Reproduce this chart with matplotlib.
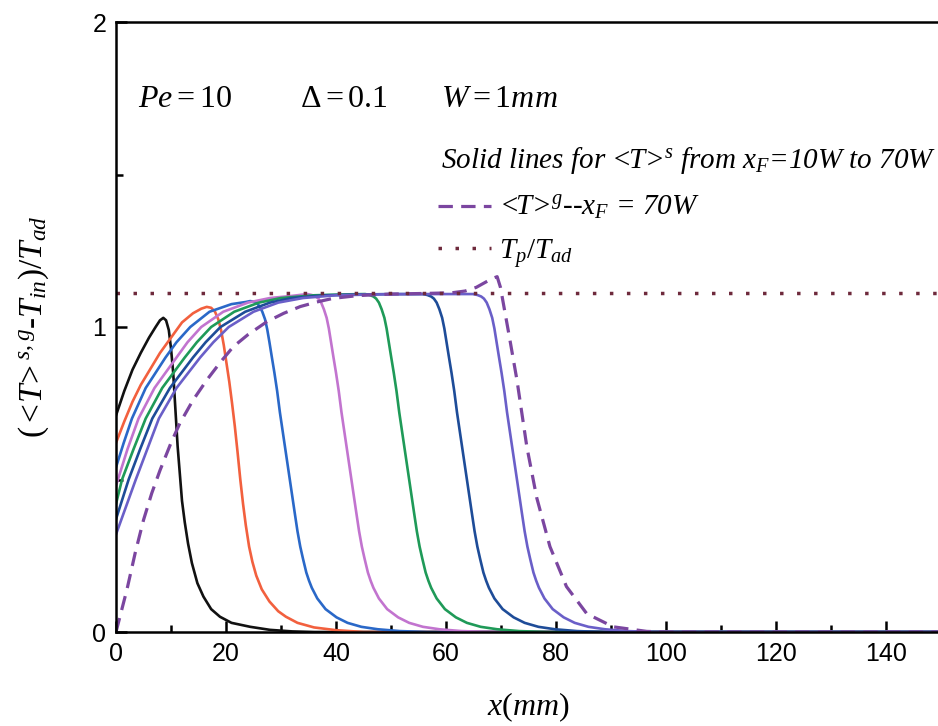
import matplotlib
matplotlib.use("Agg")
import matplotlib.pyplot as plt
from matplotlib.lines import Line2D
from matplotlib.ticker import MultipleLocator

plt.rcParams["font.family"] = ["Liberation Serif", "DejaVu Serif"]
plt.rcParams["mathtext.fontset"] = "custom"
plt.rcParams["mathtext.rm"] = "Liberation Serif"
plt.rcParams["mathtext.it"] = "Liberation Serif:italic"
plt.rcParams["mathtext.bf"] = "Liberation Serif:bold"

# --------------------------------------------------
# Data
# --------------------------------------------------
x_10 = [0, 1.5, 3, 4.5, 6, 7.2, 8.0, 8.6, 9.1, 9.6, 10.0, 10.4, 10.8, 11.2, 11.6,
        12.0, 12.5, 13.1, 13.8, 14.8, 15.9, 17.3, 18.9, 21, 24.4, 28, 32, 36, 150]
y_10 = [0.71, 0.79, 0.86, 0.915, 0.965, 1.0, 1.022, 1.03, 1.022, 0.99, 0.93, 0.85,
        0.73, 0.61, 0.52, 0.43, 0.36, 0.29, 0.226, 0.16, 0.116, 0.075, 0.05, 0.03,
        0.017, 0.007, 0.002, 0, 0]

x_20 = [0, 1.5, 3, 4.5, 6, 8, 10, 12, 14, 15.5, 16.5, 17.3, 18.0, 18.6, 19.1, 19.6,
        20.1, 20.6, 21.1, 21.6, 22.1, 22.6, 23.1, 23.6, 24.2, 24.8, 25.5, 26.5, 27.9,
        29.5, 30.9, 33, 36, 40, 45, 150]
y_20 = [0.62, 0.69, 0.755, 0.81, 0.855, 0.915, 0.965, 1.015, 1.045, 1.06, 1.066,
        1.063, 1.05, 1.025, 0.99, 0.94, 0.88, 0.82, 0.75, 0.675, 0.59, 0.5, 0.42,
        0.35, 0.28, 0.23, 0.185, 0.14, 0.1, 0.068, 0.05, 0.03, 0.015, 0.006, 0, 0]

x_30 = [0, 1.4, 2.9, 5.4, 9, 11, 13.5, 17, 21, 23.6, 24.4, 25.1, 25.6, 26.1,
        26.6, 27.1, 27.5, 27.9, 28.3, 28.8, 29.3, 29.8, 30.25, 30.7, 31.15, 31.6,
        32.05, 32.5, 33.0, 33.5, 34.0, 34.6, 35.1, 35.6, 36.6, 38.1, 40.1, 42.1,
        44.6, 47.6, 51.6, 56.6, 150]
y_30 = [0.54, 0.62, 0.70, 0.80, 0.90, 0.95, 1.0, 1.05, 1.075, 1.082, 1.085, 1.083,
        1.078, 1.068, 1.05, 1.025, 0.992, 0.95, 0.905, 0.85, 0.79, 0.72, 0.665,
        0.61, 0.555, 0.5, 0.445, 0.39, 0.33, 0.28, 0.24, 0.195, 0.168, 0.145, 0.11,
        0.075, 0.048, 0.03, 0.017, 0.009, 0.003, 0, 0]

x_40 = [0, 2.1, 4.1, 7.0, 11, 13, 15.5, 19.5, 24, 28, 32, 34.8, 35.6, 36.3, 36.8,
        37.3, 37.8, 38.3, 38.7, 39.1, 39.5, 40.0, 40.5, 41.0, 41.45, 41.9, 42.35,
        42.8, 43.25, 43.7, 44.2, 44.7, 45.2, 45.8, 46.3, 46.8, 47.8, 49.3, 51.3,
        53.3, 55.8, 58.8, 62.8, 67.8, 150]
y_40 = [0.48, 0.60, 0.70, 0.80, 0.90, 0.95, 1.0, 1.05, 1.08, 1.095, 1.102, 1.108,
        1.105, 1.10, 1.093, 1.08, 1.058, 1.03, 0.995, 0.95, 0.905, 0.85, 0.79, 0.72,
        0.665, 0.61, 0.555, 0.5, 0.445, 0.39, 0.33, 0.28, 0.24, 0.195, 0.168, 0.145,
        0.11, 0.075, 0.048, 0.03, 0.017, 0.009, 0.003, 0, 0]

x_50 = [0, 1.1, 3.2, 5.4, 8.4, 12.5, 14.7, 17.3, 21.5, 26, 30, 36, 42, 45.3, 46.1,
        46.8, 47.3, 47.8, 48.3, 48.8, 49.2, 49.6, 50.0, 50.5, 51.0, 51.5, 51.95,
        52.4, 52.85, 53.3, 53.75, 54.2, 54.7, 55.2, 55.7, 56.3, 56.8, 57.3, 58.3,
        59.8, 61.8, 63.8, 66.3, 69.3, 73.3, 78.3, 150]
y_50 = [0.42, 0.50, 0.60, 0.70, 0.80, 0.90, 0.95, 1.0, 1.05, 1.08, 1.095, 1.104,
        1.107, 1.108, 1.105, 1.10, 1.093, 1.08, 1.058, 1.03, 0.995, 0.95, 0.905,
        0.85, 0.79, 0.72, 0.665, 0.61, 0.555, 0.5, 0.445, 0.39, 0.33, 0.28, 0.24,
        0.195, 0.168, 0.145, 0.11, 0.075, 0.048, 0.03, 0.017, 0.009, 0.003, 0, 0]

x_60 = [0, 2.3, 4.4, 6.6, 9.8, 14, 16.3, 19, 23.5, 28, 32, 38, 46, 50, 55.8,
        56.6, 57.3, 57.8, 58.3, 58.8, 59.3, 59.7, 60.1, 60.5, 61.0, 61.5, 62.0,
        62.45, 62.9, 63.35, 63.8, 64.25, 64.7, 65.2, 65.7, 66.2, 66.8, 67.3, 67.8,
        68.8, 70.3, 72.3, 74.3, 76.8, 79.8, 83.8, 88.8, 150]
y_60 = [0.37, 0.50, 0.60, 0.70, 0.80, 0.90, 0.95, 1.0, 1.05, 1.08, 1.095, 1.104,
        1.107, 1.108, 1.108, 1.105, 1.10, 1.093, 1.08, 1.058, 1.03, 0.995, 0.95,
        0.905, 0.85, 0.79, 0.72, 0.665, 0.61, 0.555, 0.5, 0.445, 0.39, 0.33, 0.28,
        0.24, 0.195, 0.168, 0.145, 0.11, 0.075, 0.048, 0.03, 0.017, 0.009, 0.003,
        0, 0]

x_70 = [0, 3.6, 5.7, 7.8, 11, 15.3, 17.7, 20.5, 25, 29.5, 34, 40, 48, 55, 64.9,
        65.7, 66.4, 66.9, 67.4, 67.9, 68.4, 68.8, 69.2, 69.6, 70.1, 70.6, 71.1,
        71.55, 72.0, 72.45, 72.9, 73.35, 73.8, 74.3, 74.8, 75.3, 75.9, 76.4, 76.9,
        77.9, 79.4, 81.4, 83.4, 85.9, 88.9, 92.9, 97.9, 150]
y_70 = [0.32, 0.50, 0.60, 0.70, 0.80, 0.90, 0.95, 1.0, 1.05, 1.08, 1.095, 1.104,
        1.107, 1.108, 1.108, 1.105, 1.10, 1.093, 1.08, 1.058, 1.03, 0.995, 0.95,
        0.905, 0.85, 0.79, 0.72, 0.665, 0.61, 0.555, 0.5, 0.445, 0.39, 0.33, 0.28,
        0.24, 0.195, 0.168, 0.145, 0.11, 0.075, 0.048, 0.03, 0.017, 0.009, 0.003,
        0, 0]

# gas temperature for x_F = 70W (dashed)
x_gas = [0, 1, 2, 3.5, 5, 6.5, 8, 10, 11.6, 14, 16.5, 19, 21.3, 24, 27.4, 30.5,
         33.5, 36.5, 39.5, 44, 50, 56, 61, 63.5, 65.5, 67, 68.3, 69.3, 69.9, 70.6,
         71.5, 72.9, 74.7, 76.5, 78.9, 81.9, 85.6, 90.4, 96.5, 100, 150]
y_gas = [0, 0.07, 0.14, 0.26, 0.367, 0.455, 0.53, 0.62, 0.684, 0.76, 0.826, 0.885,
         0.935, 0.975, 1.017, 1.045, 1.067, 1.082, 1.094, 1.103, 1.108, 1.11, 1.112,
         1.118, 1.13, 1.145, 1.158, 1.165, 1.13, 1.06, 0.97, 0.826, 0.607, 0.44,
         0.28, 0.149, 0.06, 0.017, 0.002, 0, 0]

tp_ratio = 1.11

solid_x = [x_10, x_20, x_30, x_40, x_50, x_60, x_70]
solid_y = [y_10, y_20, y_30, y_40, y_50, y_60, y_70]
solid_colors = ["#111111", "#f2603e", "#2a68c8", "#c274cf", "#1f9a58", "#1e4c98", "#6a5fc8"]

# --------------------------------------------------
# Plot
# --------------------------------------------------
fig = plt.figure(figsize=(9.38, 7.26), dpi=100)
ax = fig.add_axes([116 / 938, 94 / 726, 825 / 938, 610 / 726])

for xs, ys, c in zip(solid_x, solid_y, solid_colors):
    ax.plot(xs, ys, color=c, lw=1.9, solid_joinstyle="round")

ax.plot(x_gas, y_gas, color="#7b46a0", lw=2.3, linestyle=(0, (4.5, 2.6)))
ax.plot([0, 150], [tp_ratio, tp_ratio], color="#6e2a3c", lw=2.5,
        linestyle=(0, (1, 3.9)))

ax.set_xlim(0, 150)
ax.set_ylim(0, 2)
ax.xaxis.set_major_locator(MultipleLocator(20))
ax.xaxis.set_minor_locator(MultipleLocator(10))
ax.yaxis.set_major_locator(MultipleLocator(1))
ax.yaxis.set_minor_locator(MultipleLocator(0.5))
ax.tick_params(which="both", direction="in", width=1.8, colors="black")
ax.tick_params(which="major", length=8, labelsize=18, pad=7)
ax.tick_params(which="minor", length=5)
for lab in ax.get_xticklabels() + ax.get_yticklabels():
    lab.set_family(["Liberation Sans", "DejaVu Sans"])
for s in ax.spines.values():
    s.set_linewidth(1.8)

ax.set_xlabel(r"$x(mm)$", fontsize=23, labelpad=18)
ax.set_ylabel(r"$(<\!T\!>^{s,g}$-$T_{in})/T_{ad}$", fontsize=24, labelpad=30)

# annotations
ax.text(4, 1.72, r"$Pe=10$", fontsize=23)
ax.text(33.5, 1.72, r"$\Delta=0.1$", fontsize=23)
ax.text(59, 1.72, r"$W=1mm$", fontsize=23)
ax.text(59, 1.52, r"Solid lines for <T>$^s$ from $x_F$=10W to 70W",
        fontsize=21, style="italic")

handles = [
    Line2D([], [], color="#7b46a0", lw=2.3, linestyle=(0, (4.5, 2.6))),
    Line2D([], [], color="#6e2a3c", lw=2.5, linestyle=(0, (1, 3.9))),
]
labels = [r"<T>$^g$--$x_F$ = 70W", r"$T_p/T_{ad}$"]
leg = ax.legend(handles, labels, loc="upper left", bbox_to_anchor=(438 / 938, 1 - 194 / 726),
                bbox_transform=fig.transFigure, frameon=False, borderpad=0,
                borderaxespad=0, handlelength=1.8, handletextpad=0.3,
                labelspacing=0.5, prop={"size": 21, "style": "italic",
                                        "family": "Liberation Serif"})

fig.savefig("out.png", dpi=100)
